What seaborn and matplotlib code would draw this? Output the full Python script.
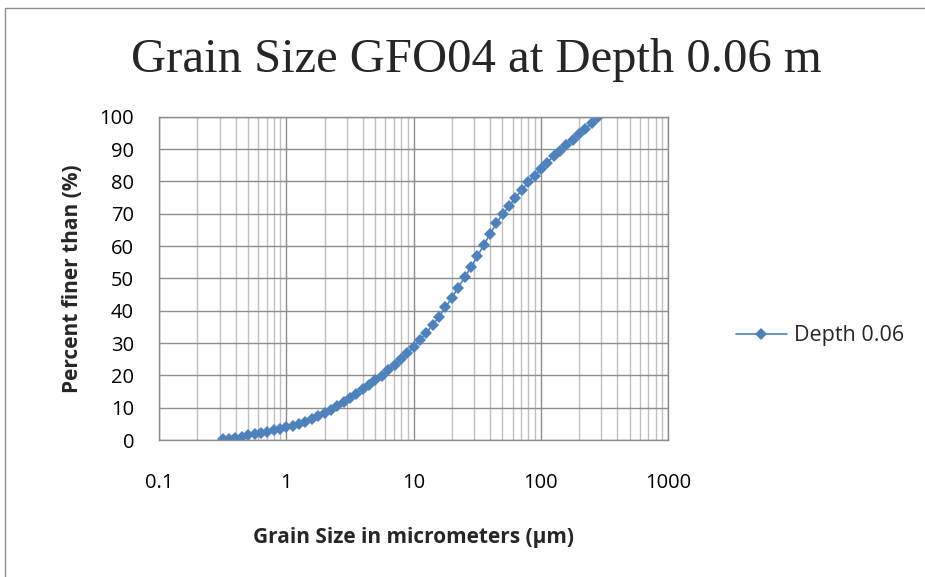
import matplotlib
matplotlib.use("Agg")
import matplotlib.pyplot as plt
import matplotlib.patches as mpatches
from matplotlib.ticker import LogLocator, FixedLocator, NullFormatter, FuncFormatter
import seaborn as sns
import pandas as pd

# Grain size classes (micrometers)
grain_size = [0.316, 0.355, 0.399, 0.448, 0.502, 0.564, 0.632, 0.710, 0.796, 0.893,
              1.002, 1.125, 1.262, 1.416, 1.589, 1.783, 2.000, 2.244, 2.518, 2.825,
              3.170, 3.557, 3.991, 4.477, 5.024, 5.637, 6.325, 7.096, 7.962, 8.934,
              10.02, 11.25, 12.62, 14.16, 15.89, 17.83, 20.00, 22.44, 25.18, 28.25,
              31.70, 35.57, 39.91, 44.77, 50.24, 56.37, 63.25, 70.96, 79.62, 89.34,
              100.2, 112.5, 126.2, 141.6, 158.9, 178.3, 200.0, 224.4, 251.8, 282.5]
# Cumulative percent finer than
percent_finer = [0.2, 0.45, 0.75, 1.05, 1.4, 1.8, 2.2, 2.6, 3.0, 3.4,
                 3.9, 4.4, 5.0, 5.7, 6.4, 7.3, 8.3, 9.3, 10.4, 11.7,
                 13.0, 14.3, 15.7, 17.0, 18.5, 19.9, 21.5, 23.2, 25.0, 26.8,
                 28.8, 30.9, 33.2, 35.6, 38.1, 41.0, 44.0, 47.1, 50.3, 53.4,
                 56.8, 60.2, 63.7, 67.0, 69.9, 72.3, 75.0, 77.3, 79.7, 81.8,
                 83.7, 85.8, 87.8, 89.4, 91.3, 92.9, 94.6, 96.2, 97.9, 100.0]
series_name = "Depth 0.06"
x_ticks = [0.1, 1, 10, 100, 1000]
x_tick_labels = ["0.1", "1", "10", "100", "1000"]
y_ticks = [0, 10, 20, 30, 40, 50, 60, 70, 80, 90, 100]

df = pd.DataFrame({"size": grain_size, "pct": percent_finer, "series": series_name})

sns.set_theme(style="white")
plt.rcParams['font.family'] = ['Open Sans', 'DejaVu Sans']

W, H = 925, 577
fig = plt.figure(figsize=(W / 100, H / 100), dpi=100)
ax = fig.add_axes([159 / W, 1 - 440 / H, (668 - 159) / W, (440 - 116.7) / H])

color = "#4F81BD"
sns.lineplot(data=df, x="size", y="pct", hue="series", palette=[color], marker="D",
             markersize=6.5, markeredgewidth=0, linewidth=1.2, ax=ax, legend=True)

ax.set_xscale("log")
ax.set_xlim(0.1, 1000)
ax.set_ylim(0, 100)
ax.xaxis.set_major_locator(FixedLocator(x_ticks))
ax.xaxis.set_major_formatter(FuncFormatter(lambda v, p: x_tick_labels[x_ticks.index(v)] if v in x_ticks else ""))
ax.xaxis.set_minor_locator(LogLocator(base=10, subs=range(2, 10)))
ax.xaxis.set_minor_formatter(NullFormatter())
ax.set_yticks(y_ticks)

ax.grid(True, which="major", axis="both", color="#8c8c8c", linewidth=1.0)
ax.grid(True, which="minor", axis="x", color="#c0c0c0", linewidth=1.0)
ax.set_axisbelow(True)
for s in ax.spines.values():
    s.set_color("#8c8c8c")
    s.set_linewidth(1.0)

ax.tick_params(axis="x", which="both", length=0, pad=24, labelsize=14.5, colors="black")
ax.tick_params(axis="y", which="both", length=0, pad=18, labelsize=14.5, colors="black")

ax.set_xlabel("Grain Size in micrometers (µm)", fontsize=15, fontweight="bold", labelpad=24)
ax.set_ylabel("Percent finer than (%)", fontsize=15, fontweight="bold", labelpad=12)

fig.text(476 / W, 1 - 60 / H, "Grain Size GFO04 at Depth 0.06 m", ha="center", va="center",
         fontsize=35, family=["Liberation Serif", "DejaVu Serif"])

handles, labels = ax.get_legend_handles_labels()
leg = ax.legend(handles, labels, loc="center left", bbox_to_anchor=(727 / W, 1 - 336 / H),
                bbox_transform=fig.transFigure, frameon=False, fontsize=15.5,
                handlelength=2.4, handletextpad=0.3, borderaxespad=0)

# outer chart border
border = mpatches.Rectangle((5 / W, -0.05), 1.0, 1 - 8 / H + 0.05, transform=fig.transFigure,
                            fill=False, edgecolor="#8c8c8c", linewidth=1.0, clip_on=False)
fig.patches.append(border)

fig.savefig("out.png", dpi=100)
